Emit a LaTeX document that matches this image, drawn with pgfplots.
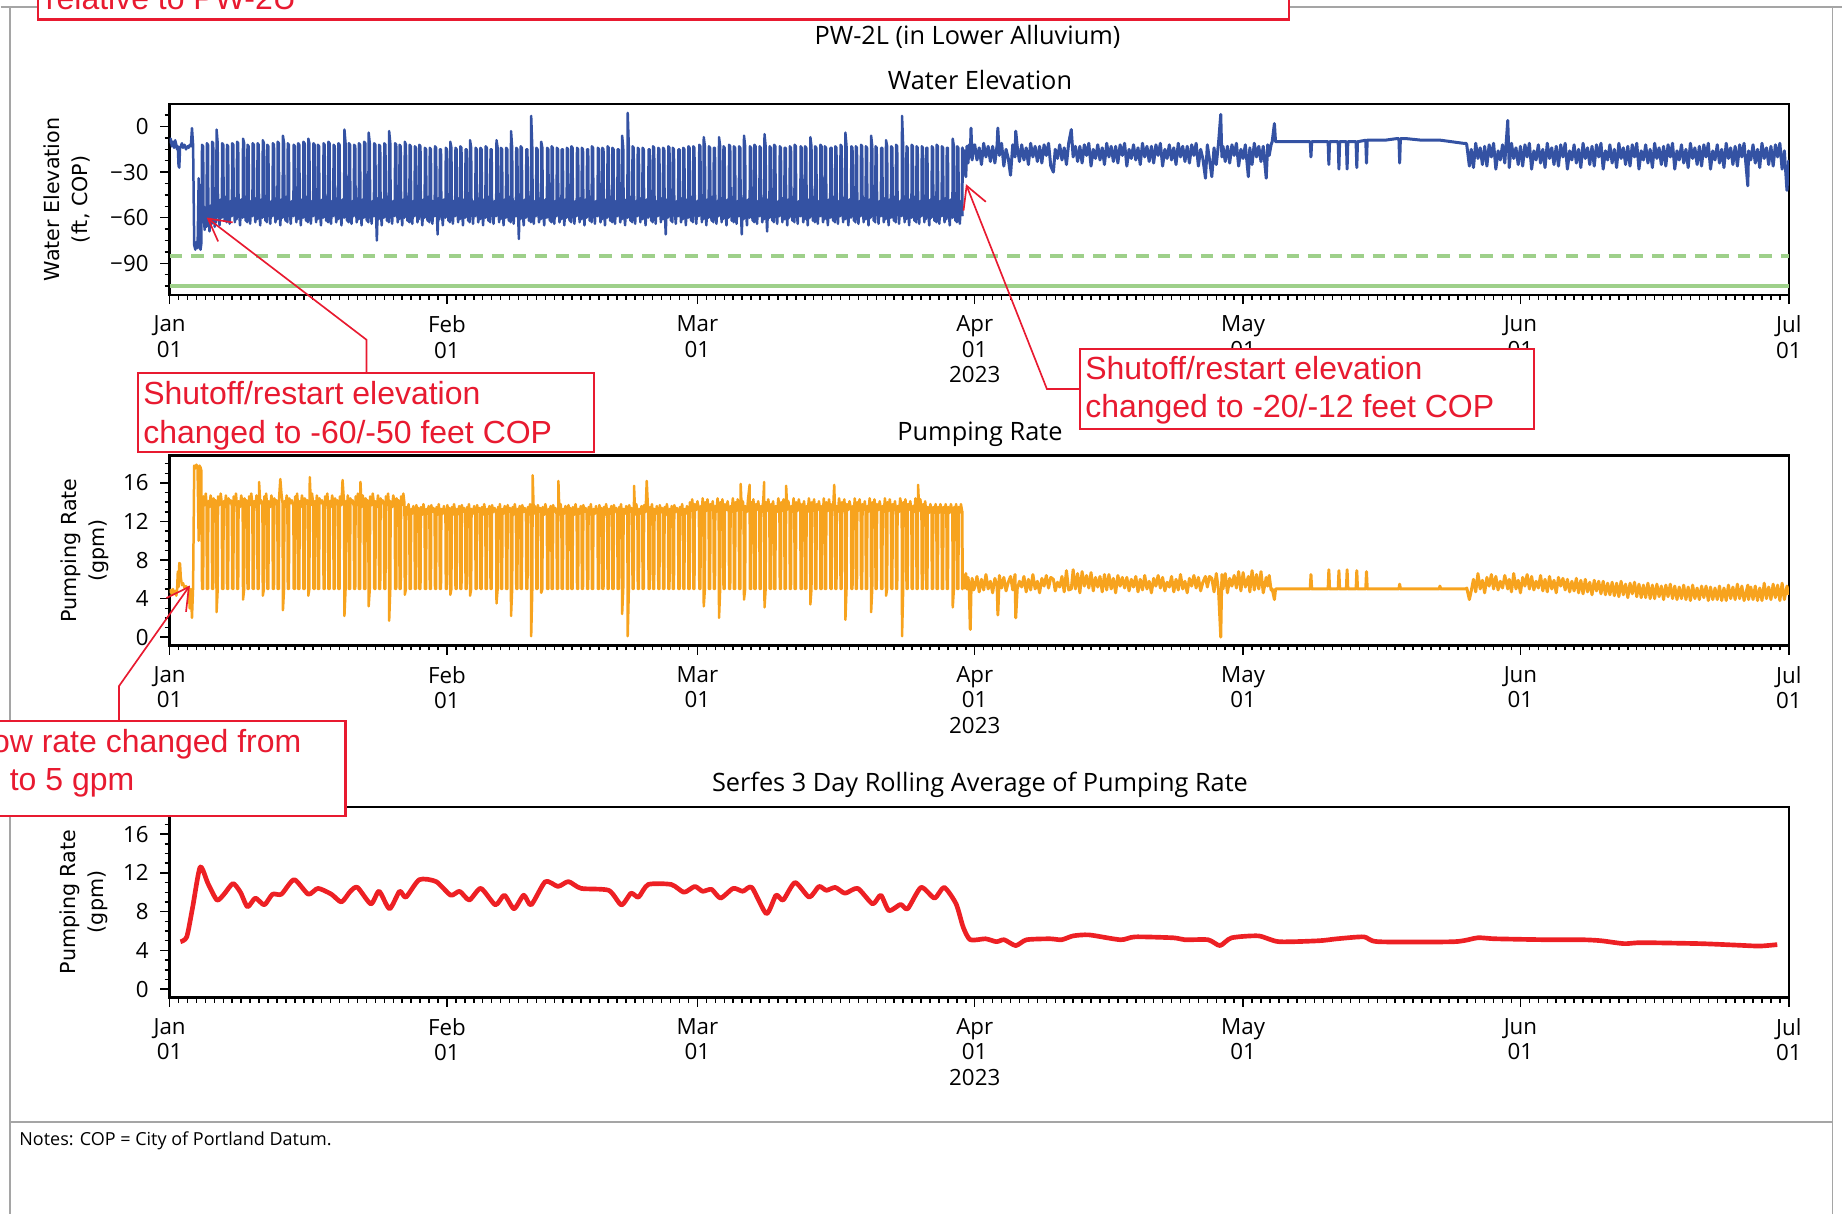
\documentclass[border=0pt]{standalone}
\usepackage{fontspec}
\setmainfont{Open Sans}
\newfontfamily\dejavu{DejaVu Sans}
\newfontfamily\arial{Liberation Sans}
\usepackage{pgfplots}
\usepackage{pgfplotstable}
\pgfplotsset{compat=1.18}
\usetikzlibrary{arrows.meta}

\definecolor{wblue}{RGB}{52,82,163}
\definecolor{porange}{RGB}{247,163,30}
\definecolor{rred}{RGB}{237,32,36}
\definecolor{lgreen}{RGB}{158,208,138}
\definecolor{annred}{RGB}{232,26,48}
\definecolor{framegray}{RGB}{165,165,165}

\newcommand\ticksize{\fontsize{6.7}{7.6}\selectfont}
\newcommand\titlesize{\fontsize{7.6}{9}\selectfont}
\newcommand\ylabsize{\dejavu\fontsize{6.2}{8.4}\selectfont}
\newcommand\annsize{\arial\fontsize{9.6}{11.52}\selectfont}

% hours since 2023-01-01 00:00, water elevation (ft COP), pumping rate (gpm)
% part 1: Jan 1 - Mar 29 (pump cycling)
\pgfplotstableread{
h e r
0 -11 4.6
3 -8 4.9
6 -13 4.4
9 -10 5.0
12 -14 4.5
15 -9 4.8
18 -12 4.3
20 -15 4.9
22 -13 6.8
24 -26 5.2
26 -27 7.7
28 -14 7.6
30 -13 6.2
33 -11 5.4
36 -14 5.6
40 -12 5.1
44 -15 5.3
48 -13 5.0
51 -14 5.2
54 -12 3.0
57 -13 5.0
60 -1 2.0
63 -12 5.2
66 -78 17.8
69 -81 17.5
72 -76 17.9
75 -80 17.4
78 -34 10.0
80 -79 17.8
83 -81 17.6
85 -77 17.3
87 -12 5.0
90 -13 5.0
91 -56 14.6
94 -68 13.7
97 -53 14.9
99 -66 13.9
100 -11 5.0
103 -12 5.0
104 -55 14.1
107 -69 13.5
110 -52 14.7
113 -64 14.0
114 -10 5.0
117 -11 5.0
118 -50 14.4
121 -66 13.9
123 -47 14.2
125 -63 13.6
126 -2 2.6
129 -11 5.0
130 -52 14.6
134 -65 13.7
137 -48 14.9
140 -60 13.9
141 -11 5.0
144 -12 5.0
145 -49 14.1
148 -62 13.5
151 -46 14.7
153 -63 14.0
154 -12 5.0
157 -13 5.0
158 -51 14.4
161 -64 13.9
164 -49 14.2
167 -59 13.6
168 -11 5.0
171 -12 5.0
172 -50 14.6
175 -63 13.7
178 -47 14.9
180 -61 13.9
181 -10 5.0
184 -11 5.0
185 -52 14.1
189 -65 13.5
192 -48 14.7
196 -60 14.0
197 -8 3.9
200 -11 5.0
201 -49 14.4
204 -62 13.9
206 -46 14.2
208 -63 13.6
209 -12 5.0
212 -13 5.0
213 -51 14.6
216 -64 13.7
219 -49 14.9
222 -59 13.9
223 -11 5.0
226 -12 5.0
227 -50 14.1
230 -63 13.5
233 -47 14.7
235 -61 14.0
236 -11 5.0
239 -12 5.0
240 -52 16.1
243 -65 13.9
246 -48 14.2
249 -60 13.6
250 -9 4.3
253 -11 5.0
254 -49 14.6
257 -62 13.7
259 -46 14.9
261 -63 13.9
262 -12 5.0
265 -13 5.0
266 -51 14.1
270 -64 13.5
273 -49 14.7
276 -59 14.0
277 -11 5.0
280 -12 5.0
281 -50 14.4
284 -63 13.9
287 -47 14.2
289 -61 13.6
290 -10 5.0
293 -11 5.0
294 -52 14.6
297 -65 16.4
300 -48 14.9
303 -60 13.9
304 -6 2.8
307 -11 5.0
308 -49 14.1
311 -62 13.5
314 -46 14.7
316 -63 14.0
317 -11 5.0
320 -12 5.0
321 -51 14.4
325 -64 13.9
328 -49 14.2
332 -59 13.6
333 -12 5.0
336 -13 5.0
337 -50 14.6
340 -63 13.7
342 -47 14.9
344 -61 13.9
345 -11 5.0
348 -12 5.0
349 -52 14.1
352 -65 13.5
355 -48 14.7
358 -60 14.0
359 -10 5.0
362 -11 5.0
363 -49 14.4
366 -62 13.9
369 -46 14.2
371 -63 13.6
372 -8 4.3
375 -11 5.0
376 -51 16.6
379 -64 13.7
382 -49 14.9
385 -59 13.9
386 -11 5.0
389 -12 5.0
390 -50 14.1
393 -63 13.5
395 -47 14.7
397 -61 14.0
398 -12 5.0
401 -13 5.0
402 -52 14.4
406 -65 13.9
409 -48 14.2
412 -60 13.6
413 -11 5.0
416 -12 5.0
417 -49 14.6
420 -62 13.7
423 -46 14.9
425 -63 13.9
426 -10 5.0
429 -11 5.0
430 -51 14.1
433 -64 13.5
436 -49 14.7
439 -59 14.0
440 -12 5.0
443 -13 5.0
444 -50 14.4
447 -63 13.9
450 -47 14.2
452 -61 13.6
453 -11 5.0
456 -12 5.0
457 -52 14.6
461 -65 13.7
464 -48 16.3
468 -60 13.9
469 -2 2.2
472 -11 5.0
473 -49 14.1
476 -62 13.5
478 -46 14.7
480 -63 14.0
481 -11 5.0
484 -12 5.0
485 -51 14.4
488 -64 13.9
491 -49 14.2
494 -59 13.6
495 -12 5.0
498 -13 5.0
499 -50 14.6
502 -63 13.7
505 -47 14.9
507 -61 13.9
508 -11 5.0
511 -12 5.0
512 -52 16.1
515 -65 13.5
518 -48 14.7
521 -60 14.0
522 -10 5.0
525 -11 5.0
526 -49 14.4
529 -62 13.9
531 -46 14.2
533 -63 13.6
534 -4 3.2
537 -11 5.0
538 -51 14.6
542 -64 13.7
545 -49 14.9
548 -59 13.9
549 -11 5.0
552 -12 5.0
553 -50 14.1
556 -75 13.5
559 -47 14.7
561 -61 14.0
562 -12 5.0
565 -13 5.0
566 -52 14.4
569 -65 13.9
572 -48 14.2
575 -60 13.6
576 -11 5.0
579 -12 5.0
580 -49 14.6
583 -62 13.7
586 -46 14.9
588 -63 13.9
589 -3 1.7
592 -11 5.0
593 -51 14.1
597 -64 13.5
600 -49 14.7
604 -59 14.0
605 -11 5.0
608 -12 5.0
609 -50 14.4
612 -63 13.9
614 -47 14.2
616 -61 13.6
617 -12 5.0
620 -13 5.0
621 -52 14.6
624 -65 13.7
627 -48 14.9
630 -60 13.9
631 -10 4.4
634 -12 5.0
635 -49 13.5
638 -62 12.7
641 -46 13.8
643 -63 13.0
644 -12 5.0
647 -13 5.0
648 -51 13.3
651 -64 12.8
654 -49 13.6
657 -59 12.9
658 -13 5.0
661 -14 5.0
662 -50 13.7
665 -63 13.0
667 -47 13.4
669 -61 12.8
670 -12 5.0
673 -13 5.0
674 -52 13.5
678 -65 12.7
681 -48 13.8
684 -60 13.0
685 -14 5.0
688 -15 5.0
689 -49 13.3
692 -62 12.8
695 -46 13.6
697 -63 12.9
698 -14 5.0
701 -15 5.0
702 -51 13.7
705 -64 13.0
708 -49 13.4
711 -59 12.8
712 -13 5.0
715 -14 5.0
716 -50 13.5
719 -71 12.7
722 -47 13.8
724 -61 13.0
725 -15 5.0
728 -15 5.0
729 -52 13.3
733 -65 12.8
736 -48 13.6
740 -60 12.9
741 -14 5.0
744 -15 5.0
745 -49 13.7
748 -62 13.0
750 -46 13.4
752 -63 12.8
753 -10 4.4
756 -14 5.0
757 -51 13.5
760 -64 12.7
763 -49 13.8
766 -59 13.0
767 -14 5.0
770 -15 5.0
771 -50 13.3
774 -63 12.8
777 -47 13.6
779 -61 12.9
780 -13 5.0
783 -14 5.0
784 -52 13.7
787 -65 13.0
790 -48 13.4
793 -60 12.8
794 -15 5.0
797 -15 5.0
798 -49 13.5
801 -62 12.7
803 -46 13.8
805 -63 13.0
806 -9 4.3
809 -14 5.0
810 -51 13.3
814 -64 12.8
817 -49 13.6
820 -59 12.9
821 -14 5.0
824 -15 5.0
825 -50 13.7
828 -63 13.0
831 -47 13.4
833 -61 12.8
834 -14 5.0
837 -15 5.0
838 -52 13.5
841 -65 12.7
844 -48 13.8
847 -60 13.0
848 -13 5.0
851 -14 5.0
852 -49 13.3
855 -62 12.8
858 -46 13.6
860 -63 12.9
861 -15 5.0
864 -15 5.0
865 -51 13.7
869 -64 13.0
872 -49 13.4
876 -59 12.8
877 -9 3.5
880 -14 5.0
881 -50 13.5
884 -63 12.7
886 -47 13.8
888 -61 13.0
889 -14 5.0
892 -15 5.0
893 -52 13.3
896 -65 12.8
899 -48 13.6
902 -60 12.9
903 -14 5.0
906 -15 5.0
907 -49 13.7
910 -62 13.0
913 -46 13.4
915 -63 12.8
916 -3 2.2
919 -14 5.0
920 -51 13.5
923 -64 12.7
926 -49 13.8
929 -59 13.0
930 -14 5.0
933 -15 5.0
934 -50 13.3
937 -74 12.8
939 -47 13.6
941 -61 12.9
942 -13 5.0
945 -14 5.0
946 -52 13.7
950 -65 13.0
953 -48 13.4
956 -60 12.8
957 -15 5.0
960 -15 5.0
961 -49 13.5
964 -62 12.7
967 -46 13.8
969 -63 13.0
970 7 0.1
973 -14 5.0
974 -51 16.8
977 -64 12.8
980 -49 13.6
983 -59 12.9
984 -14 5.0
987 -15 5.0
988 -50 13.7
991 -63 13.0
994 -47 13.4
996 -61 12.8
997 -10 4.6
1000 -14 5.0
1001 -52 13.5
1005 -65 12.7
1008 -48 13.8
1012 -60 13.0
1013 -14 5.0
1016 -15 5.0
1017 -49 13.3
1020 -62 12.8
1022 -46 13.6
1024 -63 12.9
1025 -13 5.0
1028 -14 5.0
1029 -51 13.7
1032 -64 13.0
1035 -49 13.4
1038 -59 12.8
1039 -14 5.0
1042 -15 5.0
1043 -50 16.2
1046 -63 12.7
1049 -47 13.8
1051 -61 13.0
1052 -15 5.0
1055 -15 5.0
1056 -52 13.3
1059 -65 12.8
1062 -48 13.6
1065 -60 12.9
1066 -14 5.0
1069 -15 5.0
1070 -49 13.7
1073 -62 13.0
1075 -46 13.4
1077 -63 12.8
1078 -13 5.0
1081 -14 5.0
1082 -51 13.5
1086 -64 12.7
1089 -49 13.8
1092 -59 13.0
1093 -14 5.0
1096 -15 5.0
1097 -50 13.3
1100 -63 12.8
1103 -47 13.6
1105 -61 12.9
1106 -14 5.0
1109 -15 5.0
1110 -52 13.7
1113 -65 13.0
1116 -48 13.4
1119 -60 12.8
1120 -15 5.0
1123 -15 5.0
1124 -49 13.5
1127 -62 12.7
1130 -46 13.8
1132 -63 13.0
1133 -13 5.0
1136 -14 5.0
1137 -51 13.3
1141 -64 12.8
1144 -49 13.6
1148 -59 12.9
1149 -14 5.0
1152 -15 5.0
1153 -50 13.7
1156 -63 13.0
1158 -47 13.4
1160 -61 12.8
1161 -14 5.0
1164 -15 5.0
1165 -52 13.5
1168 -65 12.7
1171 -48 13.8
1174 -60 13.0
1175 -13 5.0
1178 -14 5.0
1179 -49 13.3
1182 -62 12.8
1185 -46 13.6
1187 -63 12.9
1188 -14 5.0
1191 -15 5.0
1192 -51 13.7
1195 -64 13.0
1198 -49 13.4
1201 -59 12.8
1202 -15 5.0
1205 -15 5.0
1206 -50 13.5
1209 -63 12.7
1211 -47 13.8
1213 -61 13.0
1214 -6 2.4
1217 -14 5.0
1218 -52 13.3
1222 -65 12.8
1225 -48 13.6
1228 -60 12.9
1229 9 0.1
1232 -14 5.0
1233 -49 13.7
1236 -62 13.0
1239 -46 13.4
1241 -63 12.8
1242 -13 5.0
1245 -14 5.0
1246 -51 15.7
1249 -64 12.7
1252 -49 13.8
1255 -59 13.0
1256 -14 5.0
1259 -15 5.0
1260 -50 13.3
1263 -63 12.8
1266 -47 13.6
1268 -61 12.9
1269 -14 5.0
1272 -15 5.0
1273 -52 13.7
1277 -65 13.0
1280 -48 16.2
1284 -60 12.8
1285 -15 5.0
1288 -15 5.0
1289 -49 13.5
1292 -62 12.7
1294 -46 13.8
1296 -63 13.0
1297 -13 5.0
1300 -14 5.0
1301 -51 13.3
1304 -64 12.8
1307 -49 13.6
1310 -59 12.9
1311 -14 5.0
1314 -15 5.0
1315 -50 13.7
1318 -63 13.0
1321 -47 13.4
1323 -61 12.8
1324 -14 5.0
1327 -15 5.0
1328 -52 13.5
1331 -71 12.7
1334 -48 13.8
1337 -60 13.0
1338 -13 5.0
1341 -14 5.0
1342 -49 13.3
1345 -62 12.8
1347 -46 13.6
1349 -63 12.9
1350 -14 5.0
1353 -15 5.0
1354 -51 13.7
1358 -64 13.0
1361 -49 13.4
1364 -59 12.8
1365 -15 5.0
1368 -15 5.0
1369 -50 13.5
1372 -63 12.7
1375 -47 13.8
1377 -61 13.0
1378 -14 5.0
1381 -15 5.0
1382 -52 13.3
1385 -65 12.8
1388 -48 13.6
1391 -60 12.9
1392 -13 5.0
1395 -14 5.0
1396 -49 14.0
1399 -62 13.1
1402 -46 14.3
1404 -63 13.4
1405 -13 5.0
1408 -14 5.0
1409 -51 13.8
1413 -64 13.2
1416 -49 14.1
1420 -59 13.3
1421 -12 5.0
1424 -13 5.0
1425 -50 13.6
1428 -63 13.0
1430 -47 14.4
1432 -61 13.5
1433 -7 3.2
1436 -13 5.0
1437 -52 14.0
1440 -65 13.1
1443 -48 14.3
1446 -60 13.4
1447 -13 5.0
1450 -14 5.0
1451 -49 13.8
1454 -62 13.2
1457 -46 14.1
1459 -63 13.3
1460 -14 5.0
1463 -14 5.0
1464 -51 13.6
1467 -64 13.0
1470 -49 14.4
1473 -59 13.5
1474 -7 2.0
1477 -13 5.0
1478 -50 14.0
1481 -63 13.1
1483 -47 14.3
1485 -61 13.4
1486 -13 5.0
1489 -14 5.0
1490 -52 13.8
1494 -65 13.2
1497 -48 14.1
1500 -60 13.3
1501 -12 5.0
1504 -13 5.0
1505 -49 13.6
1508 -62 13.0
1511 -46 14.4
1513 -63 13.5
1514 -13 5.0
1517 -14 5.0
1518 -51 14.0
1521 -64 13.1
1524 -49 14.3
1527 -59 13.4
1528 -13 5.0
1531 -14 5.0
1532 -50 15.9
1535 -71 13.2
1538 -47 14.1
1540 -61 13.3
1541 -6 3.9
1544 -13 5.0
1545 -52 13.6
1549 -65 13.0
1552 -48 14.4
1556 -60 15.8
1557 -13 5.0
1560 -14 5.0
1561 -49 14.0
1564 -62 13.1
1566 -46 14.3
1568 -63 13.4
1569 -12 5.0
1572 -13 5.0
1573 -51 13.8
1576 -64 13.2
1579 -49 14.1
1582 -59 13.3
1583 -13 5.0
1586 -14 5.0
1587 -50 13.6
1590 -63 13.0
1593 -47 14.4
1595 -61 16.1
1596 -5 3.1
1599 -13 5.0
1600 -52 14.0
1603 -69 13.1
1606 -48 14.3
1609 -60 13.4
1610 -13 5.0
1613 -14 5.0
1614 -49 13.8
1617 -62 13.2
1619 -46 14.1
1621 -63 13.3
1622 -12 5.0
1625 -13 5.0
1626 -51 13.6
1630 -64 13.0
1633 -49 14.4
1636 -59 13.5
1637 -13 5.0
1640 -14 5.0
1641 -50 14.0
1644 -63 13.1
1647 -47 14.3
1649 -61 13.4
1650 -14 5.0
1653 -14 5.0
1654 -52 15.7
1657 -65 13.2
1660 -48 14.1
1663 -60 13.3
1664 -13 5.0
1667 -14 5.0
1668 -49 13.6
1671 -62 13.0
1674 -46 14.4
1676 -63 13.5
1677 -12 5.0
1680 -13 5.0
1681 -51 14.0
1685 -64 13.1
1688 -49 14.3
1692 -59 13.4
1693 -13 5.0
1696 -14 5.0
1697 -50 13.8
1700 -63 13.2
1702 -47 14.1
1704 -61 13.3
1705 -13 5.0
1708 -14 5.0
1709 -52 13.6
1712 -65 13.0
1715 -48 14.4
1718 -60 13.5
1719 -7 3.4
1722 -13 5.0
1723 -49 14.0
1726 -62 13.1
1729 -46 14.3
1731 -63 13.4
1732 -13 5.0
1735 -14 5.0
1736 -51 13.8
1739 -64 13.2
1742 -49 14.1
1745 -59 13.3
1746 -12 5.0
1749 -13 5.0
1750 -50 13.6
1753 -63 13.0
1755 -47 14.4
1757 -61 13.5
1758 -13 5.0
1761 -14 5.0
1762 -52 14.0
1766 -65 13.1
1769 -48 14.3
1772 -60 13.4
1773 -14 5.0
1776 -14 5.0
1777 -49 13.8
1780 -62 13.2
1783 -46 15.8
1785 -63 13.3
1786 -13 5.0
1789 -14 5.0
1790 -51 13.6
1793 -64 13.0
1796 -49 14.4
1799 -59 13.5
1800 -12 5.0
1803 -13 5.0
1804 -50 14.0
1807 -63 13.1
1810 -47 14.3
1812 -61 13.4
1813 -4 1.8
1816 -13 5.0
1817 -52 13.8
1821 -65 13.2
1824 -48 14.1
1828 -60 13.3
1829 -13 5.0
1832 -14 5.0
1833 -49 13.6
1836 -62 13.0
1838 -46 14.4
1840 -63 13.5
1841 -13 5.0
1844 -14 5.0
1845 -51 14.0
1848 -64 13.1
1851 -49 14.3
1854 -59 13.4
1855 -12 5.0
1858 -13 5.0
1859 -50 13.8
1862 -63 13.2
1865 -47 14.1
1867 -61 13.3
1868 -13 5.0
1871 -14 5.0
1872 -52 13.6
1875 -65 13.0
1878 -48 14.4
1881 -60 13.5
1882 -6 2.6
1885 -13 5.0
1886 -49 14.0
1889 -62 13.1
1891 -46 14.3
1893 -63 13.4
1894 -13 5.0
1897 -14 5.0
1898 -51 13.8
1902 -64 13.2
1905 -49 14.1
1908 -59 13.3
1909 -14 5.0
1912 -14 5.0
1913 -50 13.6
1916 -63 13.0
1919 -47 14.4
1921 -61 13.5
1922 -9 4.3
1925 -13 5.0
1926 -52 14.0
1929 -65 13.1
1932 -48 14.3
1935 -60 13.4
1936 -13 5.0
1939 -14 5.0
1940 -49 13.8
1943 -62 13.2
1946 -46 14.1
1948 -63 13.3
1949 -12 5.0
1952 -13 5.0
1953 -51 13.6
1957 -64 13.0
1960 -49 14.4
1964 -59 13.5
1965 7 0.1
1968 -13 5.0
1969 -50 14.0
1972 -63 13.1
1974 -47 14.3
1976 -61 13.4
1977 -13 5.0
1980 -14 5.0
1981 -52 13.8
1984 -65 13.2
1987 -48 14.1
1990 -60 13.3
1991 -12 5.0
1994 -13 5.0
1995 -49 13.6
1998 -62 13.0
2001 -46 14.4
2003 -63 13.5
2004 -13 5.0
2007 -14 5.0
2008 -51 15.8
2011 -64 13.1
2014 -49 14.3
2017 -59 13.4
2018 -13 5.0
2021 -14 5.0
2022 -50 13.8
2025 -63 13.2
2027 -47 14.1
2029 -61 13.3
2030 -14 5.0
2033 -14 5.0
2034 -52 13.5
2038 -65 12.9
2041 -48 13.8
2044 -60 13.1
2045 -13 5.0
2048 -14 5.0
2049 -49 13.5
2052 -62 12.9
2055 -46 13.8
2057 -63 13.1
2058 -12 5.0
2061 -13 5.0
2062 -51 13.5
2065 -64 12.9
2068 -49 13.8
2071 -59 13.1
2072 -13 5.0
2075 -14 5.0
2076 -50 13.5
2079 -63 12.9
2082 -47 13.8
2084 -61 13.1
2085 -14 5.0
2088 -14 5.0
2089 -52 13.5
2093 -65 12.9
2096 -48 13.8
2100 -60 13.1
2101 -8 3.1
2104 -13 5.0
2105 -49 13.5
2108 -62 12.9
2110 -46 13.8
2112 -63 13.1
2113 -13 5.0
2116 -14 5.0
2117 -51 13.5
2120 -64 12.9
2123 -49 13.8
2126 -59 13.1
}\waterdata

% part 2: Mar 29 - Jul 1 (after shutoff/restart change)
\pgfplotstableread{
h e r
2126 -59 13.1
2127 -14 5.0
2130 -28 6.4
2133 -16 5.1
2136 -33 6.6
2139 -13 5.0
2142 -24 6.2
2145 -12 5.2
2148 -20 0.8
2150 -1 4.6
2153 -22 6.1
2157 -13 4.9
2160 -12 5.2
2166 -22 6.3
2172 -14 4.7
2178 -25 6.0
2184 -11 4.9
2190 -20 6.5
2196 -13 5.0
2202 -23 5.8
2208 -13 4.6
2214 -24 6.1
2220 -12 5.3
2222 -1 2.3
2226 -19 6.4
2232 -11 5.1
2238 -26 6.2
2244 -15 4.8
2250 -21 5.7
2256 -32 6.3
2262 -12 4.9
2268 -20 6.5
2270 -3 2.0
2274 -13 5.0
2280 -23 5.8
2286 -12 5.2
2292 -22 6.3
2298 -14 4.7
2304 -25 6.0
2310 -11 4.9
2316 -20 6.5
2322 -13 5.0
2328 -23 5.8
2334 -13 4.6
2340 -24 6.1
2346 -12 5.3
2352 -19 6.4
2358 -11 5.1
2364 -26 6.2
2371 -30 6.0
2376 -15 4.8
2382 -21 5.7
2388 -12 5.2
2394 -22 6.3
2400 -14 4.7
2406 -25 6.9
2412 -11 4.9
2419 -2 5.0
2424 -20 7.0
2430 -13 5.0
2436 -23 6.6
2442 -13 4.6
2448 -24 6.8
2454 -12 5.3
2460 -19 6.4
2466 -11 5.1
2472 -26 6.7
2478 -15 4.8
2484 -21 6.2
2490 -12 5.2
2496 -22 6.3
2502 -14 4.7
2508 -25 6.5
2514 -11 4.9
2520 -20 6.5
2526 -13 5.0
2532 -23 6.1
2538 -13 4.6
2544 -24 6.4
2550 -12 5.3
2556 -19 6.2
2562 -11 5.1
2568 -26 6.2
2574 -15 4.8
2580 -21 6.0
2586 -12 5.2
2592 -22 6.3
2598 -14 4.7
2604 -25 6.0
2610 -11 4.9
2616 -20 6.4
2622 -13 5.0
2628 -23 5.8
2634 -13 4.6
2640 -24 6.1
2646 -12 5.3
2652 -19 6.4
2658 -11 5.1
2664 -26 6.2
2670 -15 4.8
2676 -21 5.7
2682 -12 5.2
2688 -22 6.3
2694 -14 4.7
2700 -25 6.0
2706 -11 4.9
2712 -20 6.5
2718 -13 5.0
2724 -23 5.8
2730 -13 4.6
2736 -24 6.1
2742 -12 5.3
2748 -19 6.4
2754 -11 5.1
2760 -26 6.2
2766 -15 4.8
2772 -21 5.7
2779 -34 6.3
2784 -12 5.2
2790 -22 6.3
2796 -33 6.1
2802 -14 4.7
2808 -25 6.6
2814 -11 4.9
2820 8 0.0
2823 -20 6.5
2826 -13 5.0
2832 -23 6.6
2838 -13 4.6
2844 -24 6.1
2850 -12 5.3
2856 -19 6.4
2862 -11 5.1
2868 -26 6.8
2874 -15 4.8
2880 -21 6.7
2886 -12 5.2
2894 -33 6.3
2898 -14 4.7
2904 -25 6.9
2910 -11 4.9
2916 -20 6.5
2922 -13 5.0
2928 -23 6.8
2934 -13 4.6
2942 -34 6.2
2946 -12 5.3
2950 -19 6.4
2955 -12 4.9
2958 -10 5.0
2964 2 3.9
2967 -10 5.0
3010 -10 5.0
3060 -10 5.0
3062 -20 6.5
3064 -10 5.0
3108 -10 5.0
3110 -25 7.0
3112 -10 5.0
3135 -10 5.0
3137 -28 6.9
3139 -10 5.0
3157 -10 5.0
3159 -28 7.0
3161 -10 5.0
3183 -10 5.0
3185 -27 6.9
3187 -10 5.0
3209 -9 5.0
3211 -24 6.8
3213 -9 5.0
3260 -9 5.0
3290 -8 5.0
3298 -8 5.0
3300 -24 5.5
3302 -8 5.0
3320 -8 5.0
3360 -9 5.0
3406 -9 5.0
3408 -9 5.3
3410 -9 5.0
3440 -10 5.0
3470 -11 5.0
3478 -11 5.0
3480 -12 5.1
3487 -26 3.9
3492 -15 4.8
3498 -27 6.0
3504 -11 4.7
3510 -21 6.6
3516 -14 5.0
3522 -25 5.9
3528 -13 4.6
3534 -26 6.2
3540 -12 5.3
3546 -20 6.5
3552 -11 5.0
3558 -28 6.3
3564 -16 4.9
3570 -22 5.8
3576 -12 5.1
3582 -24 6.4
3590 4 5.0
3594 -27 6.0
3600 -11 4.7
3606 -21 6.6
3612 -14 5.0
3618 -25 5.9
3624 -13 4.6
3630 -26 6.2
3636 -12 5.3
3642 -20 6.5
3648 -11 5.0
3654 -28 6.3
3660 -16 4.9
3666 -22 5.8
3672 -12 5.1
3678 -24 6.4
3684 -15 4.8
3690 -27 6.0
3696 -11 4.7
3702 -21 6.3
3708 -14 5.0
3714 -25 5.9
3720 -13 4.6
3726 -26 6.2
3732 -12 5.3
3738 -20 6.1
3744 -11 4.9
3750 -28 6.0
3756 -16 4.7
3762 -22 5.8
3768 -12 4.8
3774 -24 6.1
3780 -15 4.6
3786 -27 5.9
3792 -11 4.5
3798 -21 6.0
3804 -14 4.7
3810 -25 5.7
3816 -13 4.4
3822 -26 5.9
3828 -12 4.8
3834 -20 5.8
3840 -11 4.5
3846 -28 5.8
3852 -16 4.4
3858 -22 5.6
3864 -12 4.4
3870 -24 5.7
3876 -15 4.3
3882 -27 5.6
3888 -11 4.2
3894 -21 5.8
3900 -14 4.4
3906 -25 5.5
3912 -13 4.1
3918 -26 5.6
3924 -12 4.5
3930 -20 5.7
3936 -11 4.2
3942 -28 5.5
3948 -16 4.1
3954 -22 5.4
3960 -12 4.1
3966 -24 5.6
3972 -15 4.0
3978 -27 5.4
3984 -11 4.0
3990 -21 5.5
3996 -14 4.2
4002 -25 5.3
4008 -13 3.9
4014 -26 5.4
4020 -12 4.2
4026 -20 5.5
4032 -11 4.0
4038 -28 5.3
4044 -16 3.9
4050 -22 5.2
4056 -12 4.0
4062 -24 5.4
4068 -15 3.9
4074 -27 5.2
4080 -11 3.8
4086 -21 5.4
4092 -14 4.0
4098 -25 5.1
4104 -13 3.9
4110 -26 5.3
4116 -12 4.1
4122 -20 5.3
4128 -11 3.8
4134 -28 5.2
4140 -16 3.9
4146 -22 5.1
4152 -12 3.9
4158 -24 5.3
4164 -15 3.8
4170 -27 5.1
4176 -11 3.8
4182 -21 5.4
4188 -14 4.0
4194 -25 5.2
4200 -13 3.9
4206 -26 5.5
4212 -12 4.0
4218 -20 5.3
4224 -11 3.8
4234 -39 5.4
4236 -16 3.9
4242 -22 5.2
4248 -12 3.9
4254 -24 5.3
4260 -15 3.8
4266 -27 5.1
4272 -11 3.8
4278 -21 5.6
4284 -14 4.0
4290 -25 5.2
4296 -13 3.9
4302 -26 5.5
4308 -12 4.1
4314 -20 5.4
4320 -11 3.8
4326 -28 5.6
4332 -16 3.9
4339 -42 5.3
4344 -22 4.4
}\waterpost

% Serfes 3-day rolling average of pumping rate (hours, gpm)
\pgfplotstableread{
h r
29 4.9
46 5.4
62 8.5
82 12.6
103 10.9
127 9.2
146 9.8
170 10.9
190 10.0
209 8.5
230 9.4
254 8.7
276 9.8
300 9.8
334 11.3
372 9.8
398 10.4
434 9.8
461 9.0
485 10.1
504 10.5
540 8.8
562 10.1
590 8.3
617 10.1
634 9.5
670 11.3
715 11.1
754 9.7
778 10.1
804 9.2
835 10.4
874 8.7
898 9.7
924 8.3
950 9.7
970 8.7
1008 11.1
1042 10.6
1070 11.1
1104 10.4
1178 10.2
1212 8.7
1238 9.9
1258 9.5
1284 10.8
1346 10.8
1380 10.0
1409 10.6
1430 10.1
1454 10.3
1478 9.4
1512 10.4
1538 10.1
1562 10.5
1601 7.8
1627 9.7
1646 9.2
1678 11.0
1716 9.5
1742 10.6
1762 10.2
1786 10.5
1812 9.9
1846 10.4
1886 8.8
1908 9.7
1930 8.1
1961 8.75
1980 8.3
2016 10.5
2052 9.4
2078 10.5
2110 8.8
2129 6.4
2148 5.1
2189 5.2
2218 4.9
2239 5.1
2270 4.5
2299 5.1
2362 5.2
2393 5.1
2424 5.5
2467 5.6
2551 5.1
2590 5.4
2693 5.3
2724 5.1
2786 5.1
2818 4.5
2849 5.3
2921 5.5
2976 4.9
3084 5.0
3132 5.2
3204 5.4
3242 4.9
3446 4.9
3509 5.3
3557 5.2
3698 5.1
3792 5.1
3840 5.0
3902 4.7
3950 4.8
4106 4.7
4202 4.55
4265 4.45
4313 4.6
}\rolldata

\pgfplotsset{
  panel/.style={
    scale only axis, width=486.15pt,
    xmin=0, xmax=4344,
    xtick={0,744,1416,2160,2880,3624,4344},
    xticklabels={{Jan\\01},{Feb\\01},{Mar\\01},{Apr\\01\\2023},{May\\01},{Jun\\01},{Jul\\01}},
    minor xtick={0,24,...,4344},
    xtick pos=left, ytick pos=left,
    tick align=outside,
    major tick length=2.8pt, minor tick length=1.5pt,
    every tick/.style={black, line width=0.45pt},
    axis line style={black, line width=0.7pt},
    tick label style={font=\ticksize},
    xticklabel style={align=center},
    /pgf/number format/assume math mode=true,
  }
}

\begin{document}
\begin{tikzpicture}
% page area
\path (0pt,0pt) rectangle (552.9pt,-364.5pt);

% outer frame
\draw[framegray, line width=0.45pt] (0pt,-2.1pt) -- (552.9pt,-2.1pt);
\draw[framegray, line width=0.45pt] (2.82pt,-2.1pt) -- (2.82pt,-364.5pt);
\draw[framegray, line width=0.45pt] (549.9pt,-2.1pt) -- (549.9pt,-364.5pt);
\draw[framegray, line width=0.7pt] (2.82pt,-336.9pt) -- (549.9pt,-336.9pt);
\node[anchor=base west, inner sep=0pt, font=\fontsize{5.4}{6.5}\selectfont] at (5.4pt,-343.9pt) {Notes: COP = City of Portland Datum.};

% titles
\node[anchor=base, inner sep=0pt, font=\titlesize] at (290.25pt,-13.4pt) {PW-2L (in Lower Alluvium)};
\node[anchor=base, inner sep=0pt, font=\titlesize] at (294pt,-26.9pt) {Water Elevation};
\node[anchor=base, inner sep=0pt, font=\titlesize] at (294pt,-132.3pt) {Pumping Rate};
\node[anchor=base, inner sep=0pt, font=\titlesize] at (294pt,-237.6pt) {Serfes 3 Day Rolling Average of Pumping Rate};

% y labels
\node[rotate=90, align=center, inner sep=0pt, font=\ylabsize] at (19.8pt,-59.85pt) {Water Elevation\\(ft, COP)};
\node[rotate=90, align=center, inner sep=0pt, font=\ylabsize] at (25.2pt,-165.3pt) {Pumping Rate\\(gpm)};
\node[rotate=90, align=center, inner sep=0pt, font=\ylabsize] at (24.9pt,-270.8pt) {Pumping Rate\\(gpm)};

% panel 1: water elevation
\begin{axis}[panel, at={(50.7pt,-88.5pt)}, anchor=south west, height=57.3pt,
  ymin=-110.7, ymax=14.9, ytick={-90,-60,-30,0}, yticklabels={−90,−60,−30,0},
  minor ytick={-105,-97.5,...,7.5}]
\addplot[lgreen, line width=1.2pt, dash pattern=on 3.75pt off 2.7pt] coordinates {(0,-85) (4344,-85)};
\addplot[lgreen, line width=1.2pt] coordinates {(0,-105) (4344,-105)};
\addplot[wblue, line width=0.75pt, line join=round] table[x=h, y=e] {\waterdata};
\addplot[wblue, line width=0.9pt, line join=round] table[x=h, y=e] {\waterpost};
\end{axis}

% panel 2: pumping rate
\begin{axis}[panel, at={(50.7pt,-193.8pt)}, anchor=south west, height=57pt,
  ymin=-0.86, ymax=18.83, ytick={0,4,8,12,16}, minor ytick={0,1,...,18}]
\addplot[porange, line width=0.75pt, line join=round] table[x=h, y=r] {\waterdata};
\addplot[porange, line width=0.9pt, line join=round] table[x=h, y=r] {\waterpost};
\end{axis}

% panel 3: rolling average
\begin{axis}[panel, at={(50.7pt,-299.5pt)}, anchor=south west, height=57.3pt,
  ymin=-0.86, ymax=18.83, ytick={0,4,8,12,16}, minor ytick={0,1,...,18}]
\addplot[rred, line width=1.4pt, smooth, tension=0.4, line join=round] table[x=h, y=r] {\rolldata};
\end{axis}

% annotations
\begin{scope}[color=annred]
\draw[overlay, line width=0.65pt, fill=white] (11.28pt,12pt) rectangle (386.7pt,-5.85pt);
\node[overlay, anchor=base west, inner sep=0pt, font=\annsize, text=annred] at (13.38pt,-2.8pt) {relative to PW-2U};

\draw[line width=0.5pt, -{Straight Barb[length=6.6pt,width=7.2pt]}] (109.8pt,-112pt) -- (109.8pt,-102pt) -- (61.8pt,-65.31pt);
\draw[line width=0.65pt, fill=white] (41.25pt,-112pt) rectangle (178.14pt,-135.69pt);
\node[anchor=base west, align=left, inner sep=0pt, font=\annsize, text=annred] at (42.6pt,-133.02pt) {Shutoff/restart elevation\\changed to -60/-50 feet COP};

\draw[line width=0.5pt, -{Straight Barb[length=6.6pt,width=7.2pt]}] (324pt,-116.79pt) -- (314.1pt,-116.79pt) -- (289.8pt,-55.29pt);
\draw[line width=0.65pt, fill=white] (324pt,-104.79pt) rectangle (460.41pt,-128.7pt);
\node[anchor=base west, align=left, inner sep=0pt, font=\annsize, text=annred] at (325.44pt,-125.46pt) {Shutoff/restart elevation\\changed to -20/-12 feet COP};

\draw[line width=0.5pt, -{Straight Barb[length=6.6pt,width=7.2pt]}] (35.49pt,-216.51pt) -- (35.49pt,-206.01pt) -- (56.79pt,-175.8pt);
\draw[overlay, line width=0.65pt, fill=white] (-12pt,-216.51pt) rectangle (103.5pt,-245.01pt);
\node[overlay, anchor=base west, align=left, inner sep=0pt, font=\annsize, text=annred] at (-10.8pt,-237.48pt) {Flow rate changed from\\15 to 5 gpm};
\end{scope}
\end{tikzpicture}
\end{document}
